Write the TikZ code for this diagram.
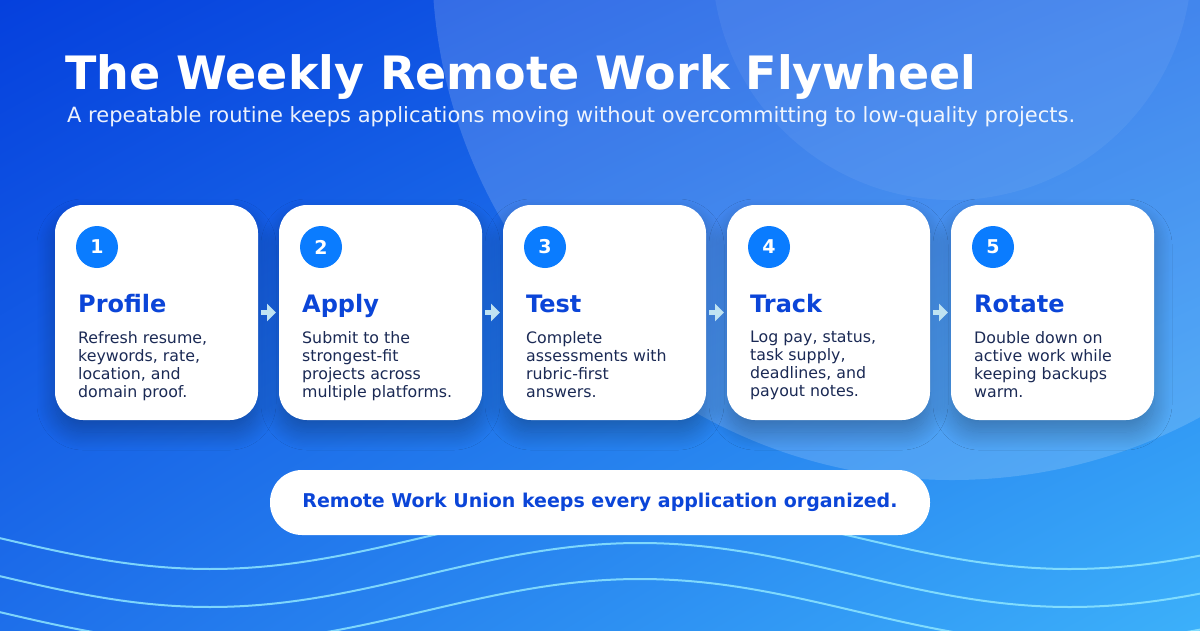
\documentclass[tikz,border=0pt]{standalone}
\usepackage{fontspec}
\setmainfont{DejaVu Sans}
\usepackage{xcolor}
\usepackage{tikz}
\usetikzlibrary{positioning,arrows.meta,shadows.blur,shadings}

\definecolor{bgdeep}{HTML}{0540DD}
\definecolor{bgmid}{HTML}{1E6FEA}
\definecolor{bglight}{HTML}{3CB0FA}
\definecolor{numblue}{HTML}{0A7CFF}
\definecolor{headblue}{HTML}{0B45D8}
\definecolor{bodyink}{HTML}{1B2A55}
\definecolor{wavecyan}{HTML}{8EE6FF}
\definecolor{arrowtint}{HTML}{BFE3F2}

\begin{document}
\begin{tikzpicture}[
  x=1pt, y=-1pt,
  node distance=21pt,
  card/.style={rectangle, fill=white, rounded corners=28pt, minimum width=203pt,
               minimum height=215pt, inner sep=0pt, outer sep=0pt,
               blur shadow={shadow xshift=0pt, shadow yshift=-12pt,
                            shadow blur radius=18pt, shadow blur steps=30,
                            shadow opacity=28}},
  numdot/.style={circle, fill=numblue, minimum size=42pt, inner sep=0pt, text=white,
                 font=\fontsize{19}{19}\selectfont\bfseries},
  cardhead/.style={anchor=base west, inner sep=0pt, text=headblue,
                   font=\fontsize{24}{28}\selectfont\bfseries},
  cardtext/.style={anchor=north west, inner sep=0pt, align=left, text=bodyink,
                   font=\fontsize{15.8}{18}\selectfont},
  flow/.style={-{Triangle[length=9pt,width=17pt]}, line width=5.5pt, arrowtint,
               shorten <=3pt, shorten >=3pt},
  wave/.style={wavecyan, line width=2pt, opacity=.85}
]
  \useasboundingbox (0,0) rectangle (1200,630);
  \clip (0,0) rectangle (1200,630);

  % backdrop
  \shade[upper left=bgdeep, upper right=bgmid, lower left=bgmid, lower right=bglight]
    (0,0) rectangle (1200,630);
  \fill[white, opacity=.16] (952,-40) circle[radius=520pt];
  \fill[white, opacity=.06] (952,-40) circle[radius=240pt];

  \draw[wave] plot[domain=0:1200, samples=90, smooth] (\x, {537 + 32*cos(0.4186*(\x-210))});
  \draw[wave] plot[domain=0:1200, samples=90, smooth] (\x, {575 + 32*cos(0.4186*(\x-210))});
  \draw[wave] plot[domain=0:1200, samples=90, smooth] (\x, {611 + 32*cos(0.4186*(\x-210))});

  % heading
  \node[anchor=base west, inner sep=0pt, text=white,
        font=\fontsize{46}{50}\selectfont\bfseries] (title) at (65,89)
        {The Weekly Remote Work Flywheel};
  \node[anchor=base west, inner sep=0pt, text=white, text opacity=.92,
        font=\fontsize{21}{24}\selectfont] (sub) at (67,122)
        {A repeatable routine keeps applications moving without overcommitting to low-quality projects.};

  % cards
  \node[card, anchor=north west] (prof) at (55,205) {};
  \node[card, right=of prof] (appl) {};
  \node[card, right=of appl] (test) {};
  \node[card, right=of test] (trk) {};
  \node[card, right=of trk] (rot) {};

  \node[numdot] (prof-n) at ([shift={(42,42)}]prof.north west) {1};
  \node[numdot] (appl-n) at ([shift={(42,42)}]appl.north west) {2};
  \node[numdot] (test-n) at ([shift={(42,42)}]test.north west) {3};
  \node[numdot] (trk-n) at ([shift={(42,42)}]trk.north west) {4};
  \node[numdot] (rot-n) at ([shift={(42,42)}]rot.north west) {5};

  \node[cardhead] (prof-h) at ([shift={(23,107)}]prof.north west) {Profile};
  \node[cardhead] (appl-h) at ([shift={(23,107)}]appl.north west) {Apply};
  \node[cardhead] (test-h) at ([shift={(23,107)}]test.north west) {Test};
  \node[cardhead] (trk-h) at ([shift={(23,107)}]trk.north west) {Track};
  \node[cardhead] (rot-h) at ([shift={(23,107)}]rot.north west) {Rotate};

  \node[cardtext] (prof-t) at ([shift={(23,126)}]prof.north west)
    {Refresh resume,\\keywords, rate,\\location, and\\domain proof.};
  \node[cardtext] (appl-t) at ([shift={(23,126)}]appl.north west)
    {Submit to the\\strongest-fit\\projects across\\multiple platforms.};
  \node[cardtext] (test-t) at ([shift={(23,126)}]test.north west)
    {Complete\\assessments with\\rubric-first\\answers.};
  \node[cardtext] (trk-t) at ([shift={(23,126)}]trk.north west)
    {Log pay, status,\\task supply,\\deadlines, and\\payout notes.};
  \node[cardtext] (rot-t) at ([shift={(23,126)}]rot.north west)
    {Double down on\\active work while\\keeping backups\\warm.};

  \draw[flow] (prof) -- (appl);
  \draw[flow] (appl) -- (test);
  \draw[flow] (test) -- (trk);
  \draw[flow] (trk) -- (rot);

  % footer pill
  \node[fill=white, rounded corners=32pt, minimum width=660pt, minimum height=65pt,
        text=headblue, font=\fontsize{19}{22}\selectfont\bfseries] (note) at (600,502.5)
        {Remote Work Union keeps every application organized.};
\end{tikzpicture}
\end{document}
